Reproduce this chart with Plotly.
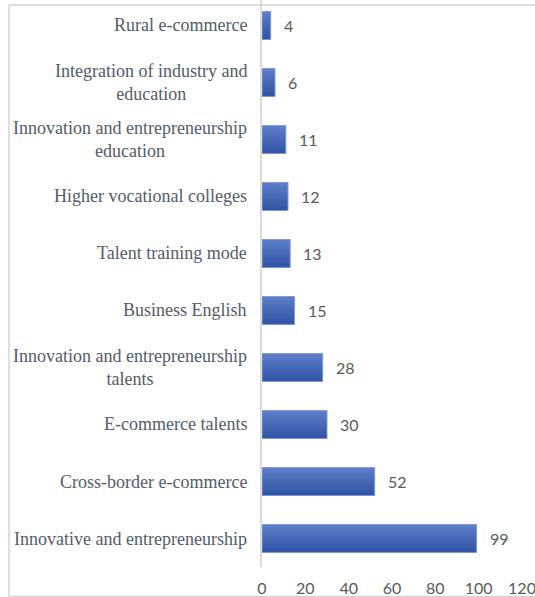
import plotly.graph_objects as go

# Keyword frequency (bottom to top)
categories = [
    "Innovative and entrepreneurship",
    "Cross-border e-commerce",
    "E-commerce talents",
    "Innovation and entrepreneurship talents",
    "Business English",
    "Talent training mode",
    "Higher vocational colleges",
    "Innovation and entrepreneurship education",
    "Integration of industry and education",
    "Rural e-commerce",
]
display_labels = [
    "Innovative and entrepreneurship",
    "Cross-border e-commerce",
    "E-commerce talents",
    "Innovation and entrepreneurship<br>talents",
    "Business English",
    "Talent training mode",
    "Higher vocational colleges",
    "Innovation and entrepreneurship<br>education",
    "Integration of industry and<br>education",
    "Rural e-commerce",
]
counts = [99, 52, 30, 28, 15, 13, 12, 11, 6, 4]
x_ticks = [0, 20, 40, 60, 80, 100, 120]

W, H = 535, 597
L, R, T, B = 262, 13, 0, 30
plot_w = W - L - R
plot_h = H - T - B

BAR_W = 0.49
N_STRIPS = 16
top_rgb = (92, 126, 200)
bot_rgb = (48, 83, 166)

fig = go.Figure()

# vertical gradient built from thin overlaid strips (bottom strip first)
for k in range(N_STRIPS):
    t = k / (N_STRIPS - 1)
    c = tuple(round(b + (tp - b) * t) for b, tp in zip(bot_rgb, top_rgb))
    fig.add_trace(go.Bar(
        x=counts, y=categories, orientation="h",
        width=BAR_W / N_STRIPS + 0.002,
        offset=-BAR_W / 2 + k * BAR_W / N_STRIPS,
        marker=dict(color="rgb(%d,%d,%d)" % c, line=dict(width=0)),
        hoverinfo="skip", showlegend=False,
    ))

# bar outline
fig.add_trace(go.Bar(
    x=counts, y=categories, orientation="h",
    width=BAR_W, offset=-BAR_W / 2,
    marker=dict(color="rgba(0,0,0,0)", line=dict(color="#7f9bd6", width=1)),
    showlegend=False,
))

annotations = []
for cat, lab, v in zip(categories, display_labels, counts):
    annotations.append(dict(
        x=0, y=cat, xref="x", yref="y", text=lab, showarrow=False,
        xanchor="right", yanchor="middle", align="center", xshift=-13,
        font=dict(family="Liberation Serif", size=18, color="#525b6a"),
    ))
    annotations.append(dict(
        x=v, y=cat, xref="x", yref="y", text=str(v), showarrow=False,
        xanchor="left", yanchor="middle", xshift=11,
        font=dict(family="Lato", size=16, color="#595959"),
    ))

def px_x(p):
    return (p - L) / plot_w

def px_y(p):
    return (H - B - p) / plot_h

frame_color = "#d4d4d4"
shapes = [
    dict(type="line", xref="paper", yref="paper",
         x0=px_x(9), x1=px_x(545), y0=px_y(5), y1=px_y(5),
         line=dict(color=frame_color, width=1.5)),
    dict(type="line", xref="paper", yref="paper",
         x0=px_x(9), x1=px_x(9), y0=px_y(5), y1=px_y(596.5),
         line=dict(color=frame_color, width=1.5)),
    dict(type="line", xref="paper", yref="paper",
         x0=px_x(9), x1=px_x(545), y0=px_y(596.5), y1=px_y(596.5),
         line=dict(color=frame_color, width=1.5)),
]

fig.update_layout(
    width=W, height=H,
    margin=dict(l=L, r=R, t=T, b=B),
    paper_bgcolor="white", plot_bgcolor="white",
    barmode="overlay",
    xaxis=dict(
        range=[0, 120], tickvals=x_ticks, ticktext=[str(v) for v in x_ticks],
        showgrid=False, zeroline=False, showline=False,
        ticks="", ticklabelstandoff=10, ticklabeloverflow="allow",
        tickfont=dict(family="Lato", size=16, color="#595959"),
    ),
    yaxis=dict(
        type="category", categoryorder="array", categoryarray=categories,
        range=[-0.5, 9.447], showticklabels=False, ticks="",
        showgrid=False, zeroline=False,
        showline=True, linecolor="#d9d9d9", linewidth=1.5,
    ),
    annotations=annotations,
    shapes=shapes,
)

fig.write_html("out.html")
